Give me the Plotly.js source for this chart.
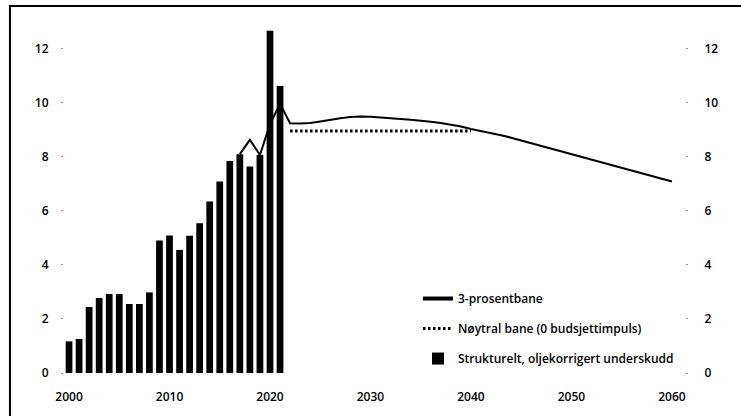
<!DOCTYPE html>
<html>
<head>
<meta charset="utf-8">
<script src="https://cdn.plot.ly/plotly-3.0.1.min.js"></script>
<style>html,body{margin:0;padding:0;background:#fff;}#chart{width:741px;height:416px;}</style>
</head>
<body>
<div id="chart"></div>
<script>
// Structural, oil-corrected deficit (bars)
const barYears = [2000,2001,2002,2003,2004,2005,2006,2007,2008,2009,2010,2011,2012,2013,2014,2015,2016,2017,2018,2019,2020,2021];
const barValues = [1.17,1.26,2.44,2.77,2.92,2.92,2.55,2.55,2.98,4.90,5.08,4.55,5.07,5.54,6.34,7.08,7.84,8.09,7.63,8.06,12.65,10.61];

// 3-prosentbane (solid line)
const lineYears = [2017,2018,2019,2020,2021,2022,2023,2024,2025,2026,2027,2028,2029,2030,2031,2032,2033,2034,2035,2036,2037,2038,2039,2040,2041,2042,2043,2044,2045,2046,2047,2048,2049,2050,2051,2052,2053,2054,2055,2056,2057,2058,2059,2060];
const lineValues = [8.09,8.62,8.06,9.20,9.95,9.23,9.22,9.24,9.30,9.37,9.42,9.46,9.48,9.47,9.45,9.42,9.39,9.36,9.33,9.29,9.24,9.18,9.11,9.02,8.95,8.88,8.79,8.70,8.60,8.50,8.40,8.30,8.19,8.09,7.99,7.89,7.79,7.69,7.59,7.49,7.39,7.29,7.18,7.08];

// Nøytral bane (dotted line)
const neutralYears = [2022,2023,2024,2025,2026,2027,2028,2029,2030,2031,2032,2033,2034,2035,2036,2037,2038,2039,2040];
const neutralValues = [8.95,8.95,8.95,8.95,8.95,8.95,8.95,8.95,8.95,8.95,8.95,8.95,8.95,8.95,8.95,8.95,8.95,8.95,8.95];

const yTicks = [0,2,4,6,8,10,12];
const xTicks = [2000,2010,2020,2030,2040,2050,2060];

const labels = {
  line: '3-prosentbane',
  neutral: 'Nøytral bane (0 budsjettimpuls)',
  bars: 'Strukturelt, oljekorrigert underskudd'
};

const FONT = {family: '"Open Sans", sans-serif', size: 12, color: '#000', weight: 600};

const traces = [
  {
    type: 'bar', x: barYears, y: barValues, name: labels.bars,
    marker: {color: '#000'}, legendrank: 3, legendgroup: 'c'
  },
  {
    type: 'scatter', mode: 'lines', x: lineYears, y: lineValues, name: labels.line,
    line: {color: '#000', width: 2}, showlegend: false, legendgroup: 'a'
  },
  {
    // legend entry for the solid line (thicker sample as in the original key)
    type: 'scatter', mode: 'lines', x: [null], y: [null], name: labels.line,
    line: {color: '#000', width: 4}, legendrank: 1, legendgroup: 'a'
  },
  {
    type: 'scatter', mode: 'lines', x: neutralYears, y: neutralValues, name: labels.neutral,
    line: {color: '#000', width: 3, dash: '2.5px,2.5px'}, legendrank: 2, legendgroup: 'b'
  },
  {
    type: 'scatter', mode: 'lines', x: [barYears[0]], y: [barValues[0]], yaxis: 'y2',
    showlegend: false, hoverinfo: 'skip', line: {width: 0}, opacity: 0
  }
];

const axisY = {
  range: [0, 13.05], tickvals: yTicks, ticks: 'outside', ticklen: 2, tickwidth: 1,
  tickcolor: '#999', showgrid: false, zeroline: false, showline: false,
  tickfont: FONT, fixedrange: true
};

const layout = {
  width: 741, height: 416,
  margin: {l: 64, r: 56, t: 20, b: 43},
  paper_bgcolor: '#fff', plot_bgcolor: '#fff',
  font: FONT,
  bargap: 0.33,
  showlegend: true,
  legend: {
    x: 0.57, y: 0.252, xanchor: 'left', yanchor: 'top',
    font: FONT, bgcolor: 'rgba(0,0,0,0)', tracegroupgap: 11,
    traceorder: 'grouped'
  },
  xaxis: {
    range: [1999.5, 2061.3], tickvals: xTicks, ticks: '', showgrid: false,
    zeroline: false, showline: false, tickfont: FONT, ticklabelstandoff: 15
  },
  yaxis: Object.assign({}, axisY, {side: 'left', ticklabelstandoff: 10}),
  yaxis2: Object.assign({}, axisY, {side: 'right', overlaying: 'y', ticklabelstandoff: 14}),
  shapes: [
    {type: 'rect', xref: 'paper', yref: 'paper', x0: -0.087, x1: 1.3, y0: -0.3, y1: 1.04,
     line: {color: '#000', width: 2}, fillcolor: 'rgba(0,0,0,0)', layer: 'below'}
  ]
};

Plotly.newPlot('chart', traces, layout, {displayModeBar: false, staticPlot: true});
</script>
</body>
</html>
